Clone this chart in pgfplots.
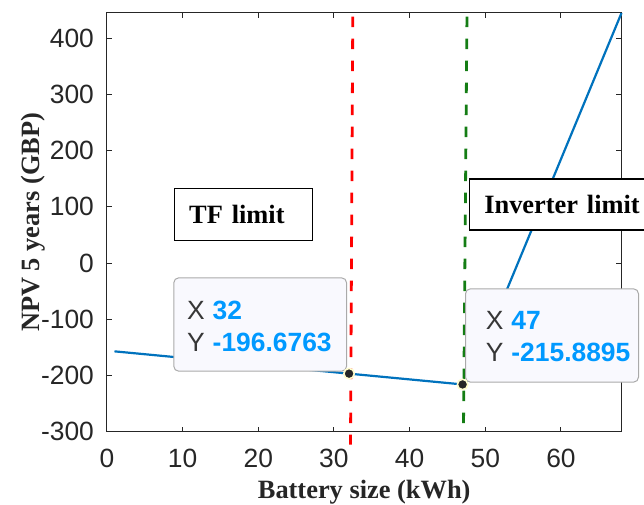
\documentclass[border=0pt]{standalone}
\usepackage{pgfplots}
\pgfplotsset{compat=1.18}
\usepackage{fontspec}
\setmainfont{Liberation Serif}
\newfontfamily\arial{Liberation Sans}
\definecolor{axgray}{RGB}{38,38,38}
\definecolor{mblue}{RGB}{0,114,189}
\definecolor{tipblue}{RGB}{0,153,255}
\definecolor{tipdark}{RGB}{55,55,55}
\definecolor{tipbg}{RGB}{249,249,254}
\definecolor{tipborder}{RGB}{170,170,170}
\definecolor{dgreen}{RGB}{20,125,20}
\newcommand{\fs}{\fontsize{13.2}{15.85}\selectfont}
\begin{document}
\begin{tikzpicture}
\begin{axis}[
  scale only axis, width=257.3pt, height=209.35pt,
  xmin=0, xmax=68, ymin=-300, ymax=445,
  xtick={0,10,...,60}, ytick={-300,-200,...,400},
  xticklabels={0,10,20,30,40,50,60},
  yticklabels={-300,-200,-100,0,100,200,300,400},
  tick align=inside, major tick length=2.6pt,
  axis line style={axgray, line width=0.5pt},
  tick style={axgray, line width=0.5pt},
  ticklabel style={font=\arial\fs, text=axgray, inner sep=0pt},
  xticklabel style={anchor=north, yshift=-8.3pt},
  yticklabel style={anchor=east, xshift=-6.3pt},
  xlabel={Battery size (kWh)},
  ylabel={NPV 5 years (GBP)},
  label style={font=\fs\bfseries, text=axgray},
  xlabel style={at={([yshift=-33.2pt]axis description cs:0.5,0)}, anchor=base},
  ylabel style={at={([xshift=-33.85pt]axis description cs:0,0.5)}, anchor=base, rotate=0},
  clip=false,
]
\addplot[mblue, line width=1.1pt] coordinates {(1,-157.0) (32,-196.6763) (47,-215.8895) (48,-205) (68,445)};
\addplot[red, line width=1.4pt, dash pattern=on 5.2pt off 5.8pt] coordinates {(32.49,438.4) (32.19,-323)};
\addplot[dgreen, line width=1.4pt, dash pattern=on 5.2pt off 5.8pt] coordinates {(47.58,438.4) (47.12,-295.2)};
\addplot[only marks, mark=*, mark size=2.6pt, mark options={fill=black!85, draw=yellow!20, line width=0.8pt}] coordinates {(32,-196.6763) (47,-215.8895)};

\node[draw=black, line width=0.7pt, fill=white, anchor=north west, text width=54.5pt, inner xsep=7.25pt, inner ysep=0pt, minimum height=26.2pt, align=left, font=\fs\bfseries] at (axis cs:8.87,134.3) {TF limit};
\node[draw=black, line width=0.7pt, fill=white, anchor=north west, text width=80pt, inner xsep=7.3pt, inner ysep=0pt, minimum height=25.5pt, align=left, font=\fs\bfseries] at (axis cs:47.85,150.9) {Inverter limit};

\node[draw=tipborder, fill=tipbg, rounded corners=2.5pt, line width=0.5pt, anchor=north west, minimum width=86.4pt, minimum height=46.7pt, inner sep=0pt] at (axis cs:8.77,-25.3) {};
\node[anchor=base west, inner sep=0pt, font=\arial\fs] at (axis cs:10.55,-100) {\textcolor{tipdark}{X}\hspace{4pt}\textcolor{tipblue}{\bfseries 32}};
\node[anchor=base west, inner sep=0pt, font=\arial\fs] at (axis cs:10.55,-156.4) {\textcolor{tipdark}{Y}\hspace{4pt}\textcolor{tipblue}{\bfseries -196.6763}};

\node[draw=tipborder, fill=tipbg, rounded corners=2.5pt, line width=0.5pt, anchor=north west, minimum width=86.5pt, minimum height=46.7pt, inner sep=0pt] at (axis cs:47.32,-44.8) {};
\node[anchor=base west, inner sep=0pt, font=\arial\fs] at (axis cs:50.02,-117.8) {\textcolor{tipdark}{X}\hspace{4pt}\textcolor{tipblue}{\bfseries 47}};
\node[anchor=base west, inner sep=0pt, font=\arial\fs] at (axis cs:50.02,-174.2) {\textcolor{tipdark}{Y}\hspace{4pt}\textcolor{tipblue}{\bfseries -215.8895}};
\end{axis}
\pgfresetboundingbox
\path[use as bounding box] ([shift={(-53.45pt,-36.15pt)}]current axis.south west) rectangle ([shift={(11.25pt,6.5pt)}]current axis.north east);
\end{tikzpicture}
\end{document}
